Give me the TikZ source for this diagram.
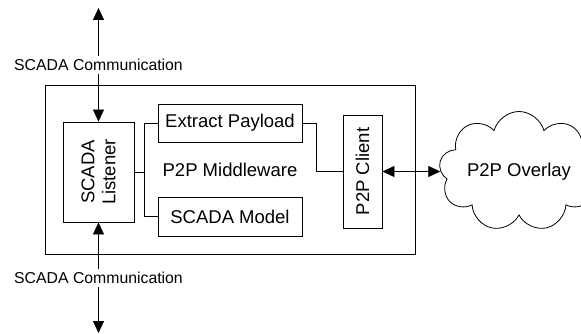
\documentclass[tikz,border=0pt]{standalone}
\usepackage{fontspec}
\setmainfont{Liberation Sans}
\usetikzlibrary{arrows.meta, positioning, shapes.symbols}
\tikzset{
  every picture/.style={line width=0.8pt},
  block/.style={draw, fill=white, align=center, inner sep=2pt, font=\fontsize{18.5}{21}\selectfont},
  vblock/.style={block, rotate=90},
  wire/.style={draw, line width=0.8pt},
  dblarrow/.style={{Triangle[length=12pt,width=11pt]}-{Triangle[length=12pt,width=11pt]}, line width=0.8pt},
  commlabel/.style={fill=white, inner sep=3pt, font=\fontsize{15.8}{18}\selectfont},
}

\begin{document}
\begin{tikzpicture}[x=1pt, y=-1pt,
  overlay/.style={cloud, draw, cloud puffs=9, cloud ignores aspect, minimum width=160, minimum height=120, inner sep=0pt, font=\fontsize{18.5}{21}\selectfont}]
  \useasboundingbox (0,0) rectangle (581,334);
  \clip (0,0) rectangle (581,334);
  \node[block, minimum width=370, minimum height=169] (mw) at (230,169.5) {P2P Middleware};
  \node[vblock, minimum width=100, minimum height=71] (listener) at (98.5,172) {SCADA\\Listener};
  \node[block, minimum width=144, minimum height=38] (payload) at (230,123) {Extract Payload};
  \node[block, minimum width=144, minimum height=39] (model) at (230,216.5) {SCADA Model};
  \node[vblock, minimum width=113, minimum height=39] (client) at (362.5,171.5) {P2P Client};
  \node[overlay] (p2p) at (519,171.5) {P2P Overlay};
  % inside the middleware
  \draw[wire] (listener.south) -- ++(10,0) coordinate (fork) |- (payload.west);
  \draw[wire] (fork) |- (model.west);
  \draw[wire] (payload.east) -- ++(14,0) |- (client.north);
  \draw[dblarrow] (client.south) -- (p2p);
  % scada side
  \coordinate (topend) at (98.5,8);
  \coordinate (botend) at (98.5,333);
  \draw[dblarrow] (listener.east) -- node[commlabel] {SCADA Communication} (topend);
  \draw[dblarrow] (listener.west) -- node[commlabel] {SCADA Communication} (botend);
\end{tikzpicture}
\end{document}
